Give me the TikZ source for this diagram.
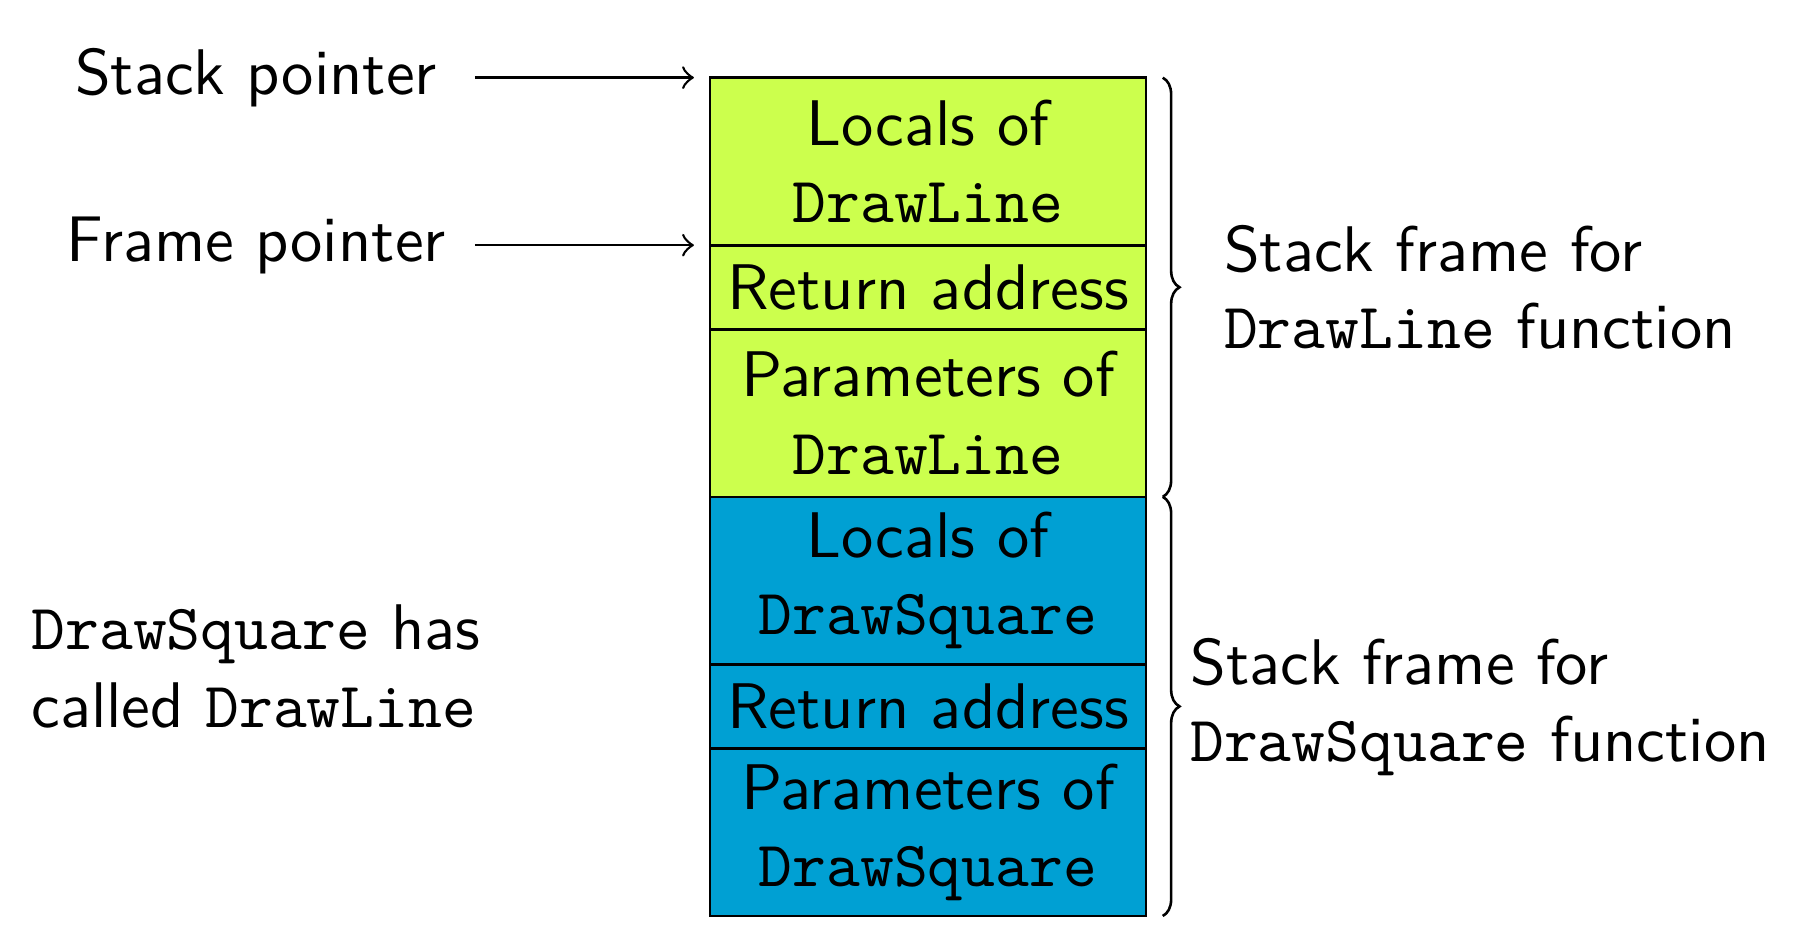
\documentclass[tikz,border=0pt]{standalone}
\usepackage{tikz}
\usetikzlibrary{positioning,decorations.pathreplacing}
\usepackage{xcolor}
\definecolor{linelime}{RGB}{204,255,77}
\definecolor{squareblue}{RGB}{0,160,211}

\begin{document}
\begin{tikzpicture}[every node/.style={font=\sffamily},
      cell/.style={draw,minimum width=2.376cm,inner sep=0pt,outer sep=0pt,align=center},
      tall/.style={cell,minimum height=0.913cm},
      short/.style={cell,minimum height=0.458cm},
      pointer/.style={minimum width=2.3cm},
      framebrace/.style={decorate,decoration={brace,amplitude=2.6pt}}]
    \useasboundingbox (0,0) rectangle (9.831,5.057);
    % the stack, top to bottom
    \node[tall,fill=linelime] (c1) at (5.057,4.177) {Locals of\\\texttt{DrawLine}};
    \node[short,fill=linelime,below=0pt of c1] (c2) {Return address};
    \node[tall,fill=linelime,below=0pt of c2] (c3) {Parameters of\\\texttt{DrawLine}};
    \node[tall,fill=squareblue,below=0pt of c3] (c4) {Locals of\\\texttt{DrawSquare}};
    \node[short,fill=squareblue,below=0pt of c4] (c5) {Return address};
    \node[tall,fill=squareblue,below=0pt of c5] (c6) {Parameters of\\\texttt{DrawSquare}};
    % pointers
    \node[pointer] (sp) at (1.395,4.634) {Stack pointer};
    \node[pointer] (fp) at (1.395,3.721) {Frame pointer};
    \draw[->,shorten <=1pt,shorten >=2.5pt] (sp.east) -- (sp.east -| c1.west);
    \draw[->,shorten <=1pt,shorten >=2.5pt] (fp.east) -- (fp.east -| c1.west);
    \node[align=left] (called) at (1.395,1.425) {\texttt{DrawSquare} has\\called \texttt{DrawLine}};
    % frames
    \draw[framebrace] ([xshift=2.6pt]c1.north east) -- ([xshift=2.6pt]c3.south east);
    \draw[framebrace] ([xshift=2.6pt]c4.north east) -- ([xshift=2.6pt]c6.south east);
    \node[align=left] (dlframe) at (8.065,3.49) {Stack frame for\\\texttt{DrawLine} function};
    \node[align=left] (dsframe) at (8.065,1.204) {Stack frame for\\\texttt{DrawSquare} function};
\end{tikzpicture}
\end{document}
